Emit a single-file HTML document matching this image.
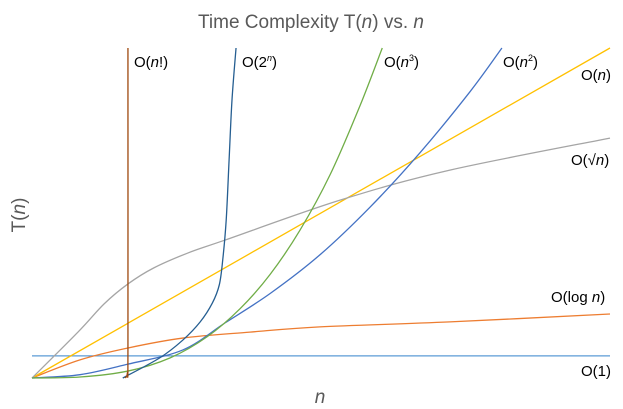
<!DOCTYPE html>
<html><head><meta charset="utf-8"><style>
html,body{margin:0;padding:0;background:#fff;}
svg{display:block;font-family:"Liberation Sans",sans-serif;}
</style></head><body>
<svg id="chart" width="623" height="409" viewBox="0 0 623 409">
<text x="311" y="28" text-anchor="middle" font-size="19" fill="#595959">Time Complexity T(<tspan font-style="italic">n</tspan>) vs. <tspan font-style="italic">n</tspan></text>
<text transform="translate(25,215) rotate(-90)" text-anchor="middle" font-size="19" fill="#595959">T(<tspan font-style="italic">n</tspan>)</text>
<text x="320" y="403" text-anchor="middle" font-size="19" font-style="italic" fill="#595959">n</text>
<g id="series"></g>
<g font-size="15" fill="#000">
<text x="134" y="67">O(<tspan font-style="italic">n</tspan>!)</text>
<text x="242" y="67">O(2<tspan font-style="italic" font-size="9" dy="-6">n</tspan><tspan dy="6">)</tspan></text>
<text x="384" y="67">O(<tspan font-style="italic">n</tspan><tspan font-size="9" dy="-6">3</tspan><tspan dy="6">)</tspan></text>
<text x="503" y="67">O(<tspan font-style="italic">n</tspan><tspan font-size="9" dy="-6">2</tspan><tspan dy="6">)</tspan></text>
<text x="581" y="80">O(<tspan font-style="italic">n</tspan>)</text>
<text x="571" y="165">O(√<tspan font-style="italic">n</tspan>)</text>
<text x="551" y="302">O(log <tspan font-style="italic">n</tspan>)</text>
<text x="581" y="376">O(1)</text>
</g>
</svg>
<script>
const constX=[0,100], constY=[6.7,6.7];
const logX=[0,8.3,16.6,26.1,37.7,49.8,72.3,100], logY=[0,5.5,9.1,12.1,13.9,15.5,17.0,19.4];
const linX=[0,100], linY=[0,100];
const sqrtX=[0,8,12.5,16.6,21,27,33.4,53.3,72.3,100], sqrtY=[0,14,22.5,28.5,33.3,37.9,41.8,53.9,63.0,72.7];
const quadX=[0,8.3,16.6,26.1,33.4,41.2,49.8,58.5,67.1,75.8,81.3], quadY=[0,1.0,4.2,8.5,16.7,25.6,37.3,51.8,68.2,86.8,100];
const cubeX=[0,8.3,16.6,23.9,30.3,36.0,41.2,46.4,51.6,56.7,60.6], cubeY=[0,0.3,2.1,6.1,12.5,21.0,31.4,44.9,61.7,82.3,100];
const expX=[15.7,22.1,26.1,29.1,31.2,32.4,33.0,33.6,34.1,34.6,35.3], expY=[0,6.1,11.5,17.0,22.7,28.2,35.8,47.9,66.1,84.2,100];
const factX=[16.1,16.5,16.6,16.6], factY=[0,1.5,10,100];
const xs=v=>32+v*5.78, ys=v=>378-v*3.3;
function path(X,Y){
  const p=X.map((x,i)=>[xs(x),ys(Y[i])]);
  if(p.length<3) return 'M'+p.map(q=>q.join(',')).join('L');
  let d='M'+p[0][0]+','+p[0][1];
  for(let i=0;i<p.length-1;i++){
    const p0=p[Math.max(0,i-1)],p1=p[i],p2=p[i+1],p3=p[Math.min(p.length-1,i+2)];
    const c1=[p1[0]+(p2[0]-p0[0])/6,p1[1]+(p2[1]-p0[1])/6];
    const c2=[p2[0]-(p3[0]-p1[0])/6,p2[1]-(p3[1]-p1[1])/6];
    d+='C'+c1.join(',')+' '+c2.join(',')+' '+p2.join(',');
  }
  return d;
}
const g=document.getElementById('series');
function add(X,Y,color,name){
  const el=document.createElementNS('http://www.w3.org/2000/svg','path');
  el.setAttribute('d',path(X,Y));
  el.setAttribute('fill','none');
  el.setAttribute('stroke',color);
  el.setAttribute('stroke-width','1.3');
  
  
  g.appendChild(el);
}
add(constX,constY,'#5b9bd5','series-constant');
add(logX,logY,'#ed7d31','series-log');
add(linX,linY,'#ffc000','series-linear');
add(sqrtX,sqrtY,'#a5a5a5','series-sqrt');
add(quadX,quadY,'#4472c4','series-quadratic');
add(cubeX,cubeY,'#70ad47','series-cubic');
add(expX,expY,'#255e91','series-exponential');
add(factX,factY,'#9e480e','series-factorial');
</script>
</body></html>
